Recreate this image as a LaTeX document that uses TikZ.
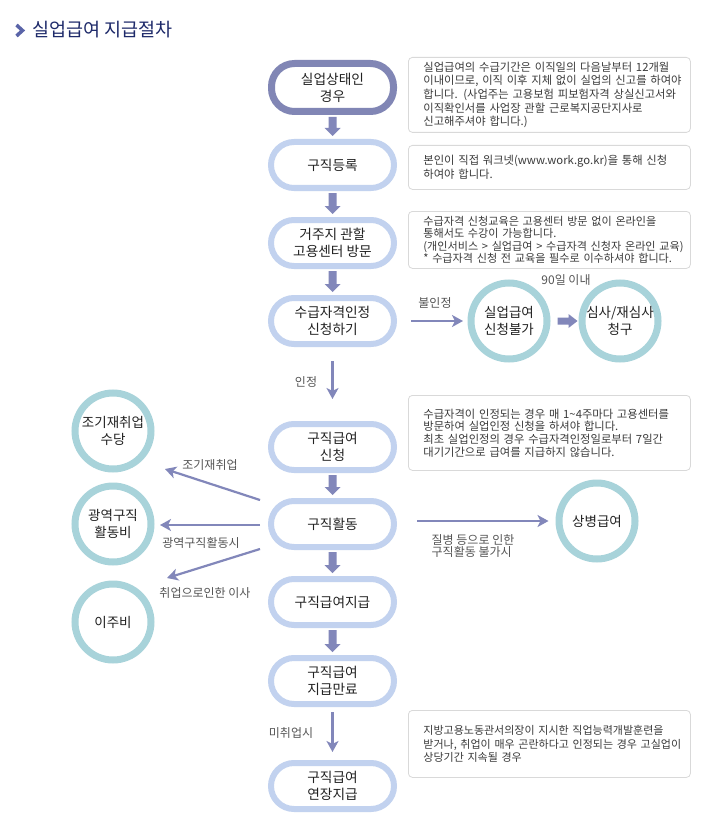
\documentclass[tikz,border=0pt]{standalone}
\usepackage{fontspec}
\setmainfont{Noto Sans CJK KR}
\usetikzlibrary{arrows.meta,calc}
\definecolor{pilldark}{HTML}{8186B5}
\definecolor{pillc}{HTML}{C2D2EF}
\definecolor{arrc}{HTML}{8287BA}
\definecolor{ringc}{HTML}{A8D3DA}
\definecolor{boxc}{HTML}{D9D9D9}
\definecolor{titlec}{HTML}{1E2A6A}
\definecolor{chevc}{HTML}{5A64A8}
\definecolor{txt}{HTML}{222222}
\definecolor{lbl}{HTML}{555555}
\definecolor{boxtxt}{HTML}{3A3A3A}
\newcommand{\vthick}[2]{\fill[arrc] let \p1=(#1.south), \p2=(#2.north) in
  (\x1-4pt,\y1-2pt) -- (\x1+4pt,\y1-2pt) -- (\x1+4pt,\y2+11pt) -- (\x1+8pt,\y2+11pt)
  -- (\x1,\y2+3pt) -- (\x1-8pt,\y2+11pt) -- (\x1-4pt,\y2+11pt) -- cycle;}
\newcommand{\bxline}[1]{\mbox{#1}}
\begin{document}
\begin{tikzpicture}[x=1pt,y=-1pt,
  pill/.style={draw=pillc, line width=6pt, fill=white, rounded corners=23pt,
    minimum width=123pt, minimum height=46pt, inner sep=0pt, align=center,
    font=\fontsize{13.7}{17}\selectfont, text=txt},
  pilltop/.style={pill, draw=pilldark, line width=7pt, minimum width=122pt, minimum height=48pt},
  ring/.style={circle, draw=ringc, line width=7pt, fill=white, minimum size=76pt,
    inner sep=0pt, align=center, font=\fontsize{13.5}{17}\selectfont, text=txt},
  infobox/.style={draw=boxc, line width=0.8pt, rounded corners=4pt, fill=white,
    text width=252pt, inner xsep=15pt, inner ysep=0pt, align=left,
    font=\fontsize{11.3}{13.6}\selectfont, text=boxtxt, anchor=north west},
  thinarr/.style={draw=arrc, line width=2.2pt, -{Stealth[length=11pt,width=12pt,inset=3pt]}},
  lab/.style={font=\fontsize{12}{14}\selectfont, text=lbl, inner sep=0pt}]
\useasboundingbox[fill=white] (0,0) rectangle (706,813);

% title
\draw[chevc, line width=3.5pt] (16.5,25) -- (22.5,30.5) -- (16.5,36);
\node[anchor=west, inner sep=0pt, font=\fontsize{18.5}{21}\selectfont, text=titlec] (title) at (32,30) {실업급여 지급절차};

% main pills
\node[pilltop] (p1) at (332.5,87.5) {실업상태인\\경우};
\node[pill] (p2) at (332.5,165) {구직등록};
\node[pill] (p3) at (332.5,243) {거주지 관할\\고용센터 방문};
\node[pill] (p4) at (332.5,321) {수급자격인정\\신청하기};
\node[pill] (p5) at (332.5,447) {구직급여\\신청};
\node[pill] (p6) at (332.5,524) {구직활동};
\node[pill] (p7) at (332.5,602) {구직급여지급};
\node[pill] (p8) at (332.5,681) {구직급여\\지급만료};
\node[pill] (p9) at (332.5,786) {구직급여\\연장지급};

% circles
\node[ring] (c1) at (509,321) {실업급여\\신청불가};
\node[ring] (c2) at (620,321) {심사/재심사\\청구};
\node[ring] (c4) at (597,521) {상병급여};
\node[ring] (l1) at (113,431) {조기재취업\\수당};
\node[ring] (l2) at (113,524) {광역구직\\활동비};
\node[ring] (l3) at (113,622) {이주비};

% info boxes
\node[infobox, minimum height=75pt] (b1) at (408,57) {\bxline{실업급여의 수급기간은 이직일의 다음날부터 12개월}\\\bxline{이내이므로, 이직 이후 지체 없이 실업의 신고를 하여야}\\\bxline{합니다. (사업주는 고용보험 피보험자격 상실신고서와}\\\bxline{이직확인서를 사업장 관할 근로복지공단지사로}\\\bxline{신고해주셔야 합니다.)}};
\node[infobox, minimum height=44pt] (b2) at (408,145) {\bxline{본인이 직접 워크넷(www.work.go.kr)을 통해 신청}\\\bxline{하여야 합니다.}};
\node[infobox, minimum height=57pt, font=\fontsize{11.1}{12.6}\selectfont] (b3) at (408,211) {\bxline{수급자격 신청교육은 고용센터 방문 없이 온라인을}\\\bxline{통해서도 수강이 가능합니다.}\\\bxline{(개인서비스 > 실업급여 > 수급자격 신청자 온라인 교육)}\\\bxline{* 수급자격 신청 전 교육을 필수로 이수하셔야 합니다.}};
\node[infobox, minimum height=75pt, font=\fontsize{11.3}{12.6}\selectfont] (b4) at (408,395) {\bxline{수급자격이 인정되는 경우 매 1\textasciitilde4주마다 고용센터를}\\\bxline{방문하여 실업인정 신청을 하셔야 합니다.}\\\bxline{최초 실업인정의 경우 수급자격인정일로부터 7일간}\\\bxline{대기기간으로 급여를 지급하지 않습니다.}};
\node[infobox, minimum height=67pt, font=\fontsize{11}{13.5}\selectfont] (b5) at (408,710) {\bxline{지방고용노동관서의장이 지시한 직업능력개발훈련을}\\\bxline{받거나, 취업이 매우 곤란하다고 인정되는 경우 고실업이}\\\bxline{상당기간 지속될 경우}};

% thick arrows
\vthick{p1}{p2}
\vthick{p2}{p3}
\vthick{p3}{p4}
\vthick{p5}{p6}
\vthick{p6}{p7}
\vthick{p7}{p8}
\fill[arrc] let \p1=(c1.east), \p2=(c2.west) in
  (\x1+7pt,\y1+3.5pt) -- (\x2-10pt,\y1+3.5pt) -- (\x2-10pt,\y1+7pt) -- (\x2-1pt,\y1)
  -- (\x2-10pt,\y1-7pt) -- (\x2-10pt,\y1-3.5pt) -- (\x1+7pt,\y1-3.5pt) -- cycle;

% thin arrows
\draw[thinarr, shorten <=14pt, shorten >=4.5pt] (p4.east) -- (c1.west);
\draw[thinarr, shorten <=14pt, shorten >=22pt] (p4.south) -- (p5.north);
\draw[thinarr, shorten <=5pt, shorten >=8pt] (p8.south) -- (p9.north);
\draw[thinarr, shorten <=20pt, shorten >=7pt] (p6.east |- c4.west) -- (c4.west);
\coordinate (e1) at (165,469);
\coordinate (e2) at (160,525);
\coordinate (e3) at (167,578);
\draw[thinarr] ([shift={(-8,-24)}]p6.west) -- (e1);
\draw[thinarr] ([shift={(-8,1)}]p6.west) -- (e2);
\draw[thinarr] ([shift={(-8,25)}]p6.west) -- (e3);

% labels
\node[lab] (t1) at (435,303) {불인정};
\node[lab] (t2) at (566,280) {90일 이내};
\node[lab] (t3) at (306,382) {인정};
\node[lab] (t4) at (210,465) {조기재취업};
\node[lab] (t5) at (201,543) {광역구직활동시};
\node[lab] (t6) at (205,593) {취업으로인한 이사};
\node[lab, align=left, font=\fontsize{12}{12.5}\selectfont] (t7) at (473,546) {질병 등으로 인한\\구직활동 불가시};
\node[lab] (t8) at (291,733) {미취업시};
\end{tikzpicture}
\end{document}
